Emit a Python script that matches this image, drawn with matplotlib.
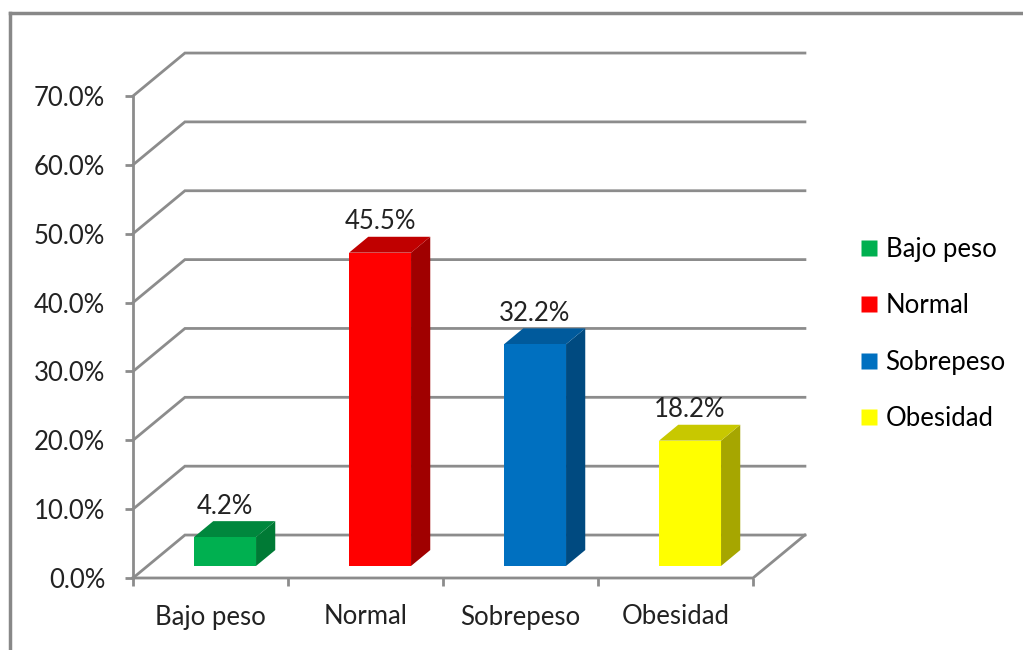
import matplotlib
matplotlib.use("Agg")
import matplotlib.pyplot as plt
from matplotlib.patches import Polygon
from matplotlib.lines import Line2D

categories = ["Bajo peso", "Normal", "Sobrepeso", "Obesidad"]
values = [4.2, 45.5, 32.2, 18.2]
labels = ["4.2%", "45.5%", "32.2%", "18.2%"]
front_colors = ["#00B050", "#FF0000", "#0070C0", "#FFFF00"]
top_colors = ["#00873D", "#C00000", "#005A9C", "#C8C800"]
side_colors = ["#007A35", "#A00000", "#004A80", "#A6A600"]
yticks = [0, 10, 20, 30, 40, 50, 60, 70]

GRID = "#8C8C8C"
FONT = "Lato"
FS = 18.5

# depth of the 3d box in data units (x: category, y: percent)
DX, DY = 0.335, 6.24
BAR_W = 0.4
D0, D1 = 0.28, 0.65  # bar front/back as fraction of depth

fig = plt.figure(figsize=(10.23, 6.5), dpi=100)
fig.patch.set_facecolor("white")

# outer frame (top and left edges only visible)
fig.add_artist(Line2D([10 / 1023, 10 / 1023], [0, 1 - 13 / 650], transform=fig.transFigure,
                      color="#888888", lw=2.5))
fig.add_artist(Line2D([10 / 1023, 1], [1 - 13 / 650, 1 - 13 / 650], transform=fig.transFigure,
                      color="#888888", lw=2.5))

ax = fig.add_axes([133 / 1023, 1 - 578 / 650, 620 / 1023, 482 / 650])
ax.set_xlim(0, 4)
ax.set_ylim(0, 70)
for s in ["top", "right", "bottom"]:
    ax.spines[s].set_visible(False)
ax.spines["left"].set_color(GRID)
ax.spines["left"].set_linewidth(2)

# gridlines on the back wall + connectors to the front axis
for t in yticks:
    ax.plot([0, DX, 4 + DX], [t, t + DY, t + DY], color=GRID, lw=2, clip_on=False,
            solid_joinstyle="miter", zorder=1)
# floor outline
ax.plot([0, 4, 4 + DX], [0, 0, DY], color=GRID, lw=2, clip_on=False, zorder=1,
        solid_joinstyle="miter")

# bars
for i, (v, fc, tc, sc) in enumerate(zip(values, front_colors, top_colors, side_colors)):
    x0 = i + 0.5 - BAR_W / 2 + D0 * DX
    x1 = x0 + BAR_W
    y0 = D0 * DY
    ox, oy = (D1 - D0) * DX, (D1 - D0) * DY
    side = [(x1, y0), (x1 + ox, y0 + oy), (x1 + ox, y0 + oy + v), (x1, y0 + v)]
    top = [(x0, y0 + v), (x1, y0 + v), (x1 + ox, y0 + oy + v), (x0 + ox, y0 + oy + v)]
    front = [(x0, y0), (x1, y0), (x1, y0 + v), (x0, y0 + v)]
    for poly, c in [(side, sc), (top, tc), (front, fc)]:
        ax.add_patch(Polygon(poly, closed=True, facecolor=c, edgecolor="none",
                             clip_on=False, zorder=3))
    ax.annotate(labels[i], ((x0 + x1) / 2, y0 + v), xytext=(0, 31), textcoords="offset pixels",
                ha="center", va="center", fontsize=FS, family=FONT, color="#222222",
                annotation_clip=False, zorder=4)

# axes ticks
ax.set_yticks(yticks)
ax.set_yticklabels([f"{t:.1f}%" for t in yticks], family=FONT, fontsize=FS, color="#222222")
ax.tick_params(axis="y", length=6, width=2, color=GRID, pad=14)
ax.set_xticks([0, 1, 2, 3, 4])
ax.set_xticklabels([])
ax.tick_params(axis="x", length=6, width=2, color=GRID, direction="out")
ax.spines["bottom"].set_visible(False)
for i, c in enumerate(categories):
    ax.annotate(c, (i + 0.5, 0), xytext=(0, -39), textcoords="offset pixels", ha="center",
                va="center", fontsize=FS, family=FONT, color="#222222", annotation_clip=False)

handles = [Line2D([], [], marker="s", ls="none", markersize=11, markerfacecolor=c,
                  markeredgecolor="none") for c in front_colors]
fig.legend(handles, categories, loc="center left", bbox_to_anchor=(838 / 1023, 1 - 334 / 650),
           frameon=False, prop={"family": FONT, "size": FS}, handlelength=0.6,
           handletextpad=0.35, labelspacing=1.22)

fig.savefig("out.png", dpi=100)
